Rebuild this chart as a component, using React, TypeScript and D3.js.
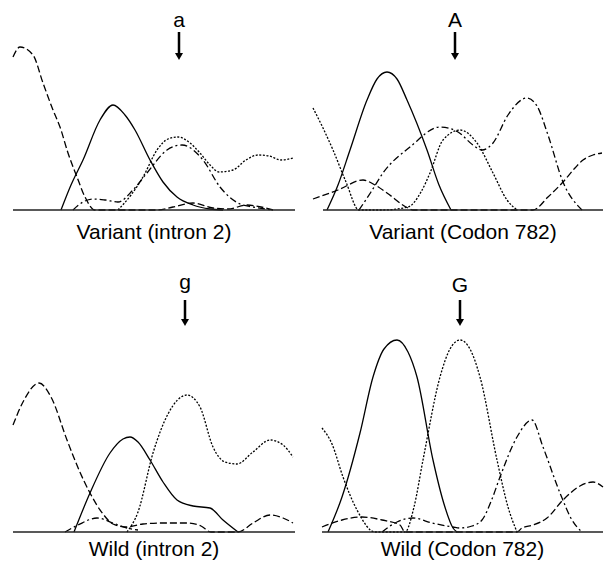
import React from 'react';
import * as d3 from 'd3';

type Pt = [number, number];

// trace values: [scan position, signal]
const variantIntronDashed: Pt[] = [[0,153],[7,163],[20,155],[30,127],[40,100],[47,83],[55,57],[64,33],[72,13],[82,0],[144,0],[160,3],[180,7],[200,2],[215,1],[234,5],[248,3],[260,0]];
const variantIntronSolid: Pt[] = [[48,0],[58,25],[70,50],[87,90],[100,105],[112,95],[122,80],[137,50],[150,28],[164,13],[180,5],[197,1],[210,0]];
const variantIntronDotted: Pt[] = [[105,0],[118,15],[130,33],[144,60],[155,71],[165,73],[177,67],[187,57],[197,45],[206,38],[220,40],[233,50],[245,55],[256,54],[268,50],[280,52]];
const variantIntronDashDot: Pt[] = [[60,0],[70,8],[80,11],[92,10],[105,8],[120,20],[134,37],[154,60],[169,65],[190,50],[207,23],[227,6],[240,3],[260,0]];

const variantCodonSolid: Pt[] = [[14,0],[25,25],[37,60],[54,110],[64,131],[74,138],[84,131],[94,110],[114,60],[126,25],[138,0]];
const variantCodonDotted: Pt[] = [[0,102],[10,82],[20,60],[33,28],[46,0],[70,0],[95,3],[108,18],[117,37],[130,70],[147,80],[164,67],[180,37],[194,10],[204,0]];
const variantCodonDashed: Pt[] = [[0,11],[25,20],[50,30],[62,25],[74,17],[95,2],[100,0],[220,0],[235,13],[250,28],[262,42],[270,50],[280,55],[289,57]];
const variantCodonDashDot: Pt[] = [[46,0],[58,18],[70,37],[97,63],[127,83],[145,78],[160,65],[169,60],[180,67],[195,95],[214,112],[224,104],[235,75],[250,28],[269,0]];

const wildIntronDashed: Pt[] = [[0,107],[10,130],[26,149],[38,135],[54,92],[66,62],[77,39],[90,18],[100,8],[114,5],[130,8],[150,9],[174,9],[188,6],[198,0],[225,0],[240,9],[257,17],[270,14],[280,9]];
const wildIntronSolid: Pt[] = [[61,0],[77,39],[97,79],[110,93],[117,95],[125,90],[137,72],[150,50],[164,32],[180,26],[197,24],[210,12],[225,0]];
const wildIntronDotted: Pt[] = [[114,0],[125,20],[140,79],[155,118],[174,137],[187,125],[200,85],[212,70],[224,68],[240,80],[257,92],[270,87],[280,75]];
const wildIntronDashDot: Pt[] = [[52,0],[65,7],[84,14],[100,9],[114,4],[125,2]];

const wildCodonSolid: Pt[] = [[6,0],[20,35],[38,99],[51,155],[62,183],[75,192],[86,180],[95,155],[111,72],[122,28],[131,4],[135,0]];
const wildCodonDotted: Pt[] = [[0,104],[10,88],[21,55],[35,22],[53,0],[83,0],[92,25],[101,72],[118,155],[128,183],[138,192],[148,183],[158,155],[175,72],[186,25],[195,0]];
const wildCodonDashed: Pt[] = [[0,5],[20,12],[40,15],[60,12],[78,7],[83,0],[195,0],[200,4],[211,7],[225,14],[241,32],[258,46],[271,50],[281,45]];
const wildCodonDashDot: Pt[] = [[60,0],[75,10],[91,14],[110,9],[131,5],[138,4],[150,6],[160,12],[170,33],[178,55],[195,95],[210,112],[221,85],[238,39],[250,12],[260,0]];

const panelTitles = ['Variant (intron 2)', 'Variant (Codon 782)', 'Wild (intron 2)', 'Wild (Codon 782)'];
const baseCalls = ['a', 'A', 'g', 'G'];
const callPositions = [166, 142, 172, 138];
const axisExtents: Pt[] = [[0, 282], [10, 290], [0, 282], [0, 281]];

const dashStyles: Record<string, string> = {
  solid: 'none',
  dashed: '7,3',
  dotted: '2,1.6',
  dashdot: '7,3,2,3',
};

const panels = [
  { left: 13, base: 210, callY: 27, arrowTop: 32, arrowBottom: 60, labelY: 239,
    traces: [['dashed', variantIntronDashed], ['solid', variantIntronSolid], ['dotted', variantIntronDotted], ['dashdot', variantIntronDashDot]] },
  { left: 313, base: 210, callY: 27, arrowTop: 32, arrowBottom: 60, labelY: 239,
    traces: [['solid', variantCodonSolid], ['dotted', variantCodonDotted], ['dashed', variantCodonDashed], ['dashdot', variantCodonDashDot]] },
  { left: 13, base: 532, callY: 289, arrowTop: 300, arrowBottom: 326, labelY: 556,
    traces: [['dashed', wildIntronDashed], ['solid', wildIntronSolid], ['dotted', wildIntronDotted], ['dashdot', wildIntronDashDot]] },
  { left: 322, base: 532, callY: 292, arrowTop: 300, arrowBottom: 326, labelY: 556,
    traces: [['solid', wildCodonSolid], ['dotted', wildCodonDotted], ['dashed', wildCodonDashed], ['dashdot', wildCodonDashDot]] },
];

function Panel({ idx }: { idx: number }) {
  const p = panels[idx];
  const x = d3.scaleLinear().domain([0, 290]).range([p.left, p.left + 290]);
  const y = d3.scaleLinear().domain([0, 200]).range([p.base, p.base - 200]);
  const line = d3.line<Pt>()
    .x(d => x(d[0]))
    .y(d => y(d[1]))
    .curve(d3.curveMonotoneX);
  const ax = x(callPositions[idx]);
  const [e0, e1] = axisExtents[idx];
  const labelX = (x(e0) + x(e1)) / 2;

  return (
    <g>
      {p.traces.map(([style, data], i) => (
        <path key={i} d={line(data as Pt[]) || ''} fill="none" stroke="#000"
          strokeWidth={1.3} strokeDasharray={dashStyles[style as string]} />
      ))}
      <line x1={x(e0)} x2={x(e1)} y1={p.base} y2={p.base} stroke="#222" strokeWidth={1.5} />
      <text x={ax} y={p.callY} textAnchor="middle" fontSize={21}>{baseCalls[idx]}</text>
      <line x1={ax} x2={ax} y1={p.arrowTop} y2={p.arrowBottom - 6} stroke="#000" strokeWidth={2.5} />
      <path d={`M${ax - 4},${p.arrowBottom - 7}L${ax + 4},${p.arrowBottom - 7}L${ax},${p.arrowBottom}Z`} fill="#000" />
      <text x={labelX} y={p.labelY} textAnchor="middle" fontSize={21}>{panelTitles[idx]}</text>
    </g>
  );
}

export default function App() {
  return (
    <svg width={607} height={567} style={{ position: 'absolute', left: 0, top: 0, background: '#fff' }}
      fontFamily="'Liberation Sans', Arial, sans-serif">
      {panels.map((_, i) => <Panel key={i} idx={i} />)}
    </svg>
  );
}
